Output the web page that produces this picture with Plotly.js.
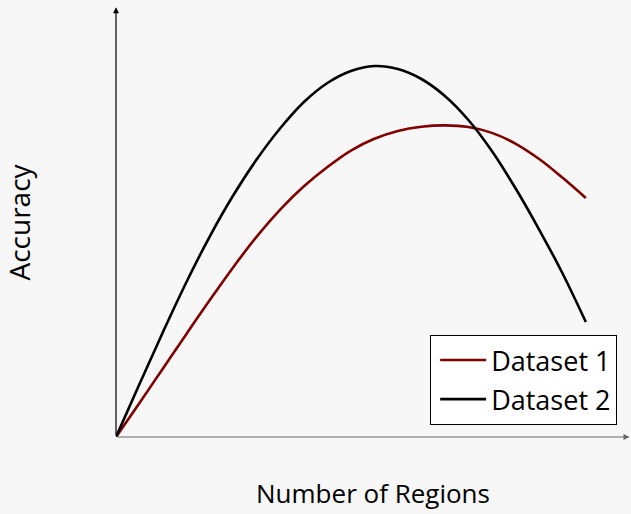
<!DOCTYPE html>
<html>
<head>
<meta charset="utf-8">
<script src="https://cdn.plot.ly/plotly-3.0.1.min.js"></script>
<style>html,body{margin:0;padding:0;background:#f7f7f7;}</style>
</head>
<body>
<div id="chart" style="width:631px;height:514px;"></div>
<script>
// Number of regions (arbitrary units, no tick labels shown)
const regions = [0, 0.5, 1, 1.5, 2, 2.5, 3, 3.5, 4, 4.5, 5, 5.5, 6, 6.5, 7, 7.5, 8, 8.5, 9, 9.5, 10];
// Accuracy values (relative)
const dataset1 = [0, 0.0795, 0.1599, 0.2403, 0.3198, 0.3965, 0.4678, 0.5308, 0.5844, 0.6294, 0.6678,
                  0.6951, 0.7133, 0.7231, 0.7263, 0.7226, 0.7089, 0.6841, 0.6485, 0.6047, 0.5571];
const dataset2 = [0, 0.1235, 0.2448, 0.3613, 0.4685, 0.5641, 0.6480, 0.7203, 0.7809, 0.8252, 0.8531,
                  0.8648, 0.8578, 0.8345, 0.7949, 0.7389, 0.6667, 0.5804, 0.4848, 0.3823, 0.2681];
const seriesNames = ["Dataset 1", "Dataset 2"];

const font = "Open Sans, Lato, sans-serif";

const traces = [
  {x: regions, y: dataset1, name: seriesNames[0], mode: "lines", legendgroup: "a",
   line: {color: "#800000", width: 2.6, shape: "spline", smoothing: 1}},
  {x: regions, y: dataset2, name: seriesNames[1], mode: "lines", legendgroup: "b",
   line: {color: "#000000", width: 2.6, shape: "spline", smoothing: 1}}
];

const layout = {
  width: 631, height: 514,
  paper_bgcolor: "#f7f7f7", plot_bgcolor: "#f7f7f7",
  margin: {l: 116, r: 1, t: 8, b: 77},
  font: {family: font, size: 26, color: "#000"},
  xaxis: {range: [0, 10.94], showgrid: false, zeroline: false, showticklabels: false,
          ticks: "", showline: false,
          title: {text: "Number of Regions", font: {size: 26}, standoff: 47}},
  yaxis: {range: [0, 1], showgrid: false, zeroline: false, showticklabels: false,
          ticks: "", showline: false,
          title: {text: "Accuracy", font: {size: 28}, standoff: 82}},
  showlegend: true,
  legend: {x: 0.975, y: 0.028, xanchor: "right", yanchor: "bottom",
           bgcolor: "#ffffff", bordercolor: "#000", borderwidth: 1,
           font: {size: 27}, tracegroupgap: 1, itemwidth: 46, indentation: 4},
  annotations: [
    {xref: "paper", yref: "paper", x: 0, y: 1.002, axref: "pixel", ayref: "pixel",
     ax: 0, ay: 430, text: "", showarrow: true, arrowhead: 2, arrowsize: 1,
     arrowwidth: 1.2, arrowcolor: "#000"},
    {xref: "paper", yref: "paper", x: 0.999, y: 0, axref: "pixel", ayref: "pixel",
     ax: -513, ay: 0, text: "", showarrow: true, arrowhead: 2, arrowsize: 1,
     arrowwidth: 1.2, arrowcolor: "#666"}
  ]
};

Plotly.newPlot("chart", traces, layout, {displayModeBar: false, staticPlot: true});
</script>
</body>
</html>
